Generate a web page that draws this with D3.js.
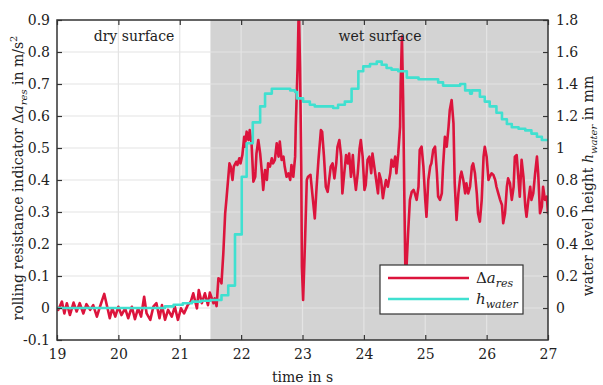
<!DOCTYPE html>
<html>
<head>
<meta charset="utf-8">
<script src="https://cdn.jsdelivr.net/npm/d3@7"></script>
<style>
  body { margin: 0; background: #fff; }
  text { font-family: "DejaVu Serif", serif; fill: #222; }
</style>
</head>
<body>
<svg id="chart" width="603" height="385"></svg>
<script>
// Rolling resistance indicator Δa_res (m/s²) over time (s)
const timeRes = [
  19.00,19.02,19.08,19.12,19.16,19.21,19.27,19.32,19.37,19.43,19.48,19.54,19.59,19.65,19.70,19.77,19.83,19.86,19.90,19.95,
  20.00,20.05,20.11,20.16,20.22,20.27,20.32,20.37,20.42,20.46,20.52,20.57,20.62,20.67,20.71,20.76,20.81,20.87,20.92,20.97,
  21.02,21.07,21.13,21.18,21.22,21.28,21.31,21.36,21.41,21.46,21.49,21.55,21.57,21.60,21.63,21.66,21.68,21.71,21.74,21.76,
  21.81,21.83,21.86,21.88,21.92,21.94,21.97,21.99,22.02,22.05,22.06,22.09,22.12,22.14,22.17,22.20,22.23,22.25,22.28,22.31,
  22.34,22.36,22.39,22.42,22.44,22.47,22.50,22.52,22.55,22.58,22.61,22.63,22.66,22.69,22.71,22.74,22.77,22.80,22.82,22.85,
  22.88,22.89,22.92,22.94,22.96,22.98,22.99,23.01,23.04,23.07,23.09,23.13,23.17,23.20,23.23,23.26,23.30,23.32,23.35,23.38,
  23.41,23.44,23.46,23.49,23.52,23.55,23.57,23.60,23.63,23.65,23.68,23.71,23.74,23.76,23.79,23.82,23.84,23.87,23.90,23.93,
  23.95,23.98,24.01,24.03,24.06,24.09,24.12,24.14,24.17,24.20,24.23,24.25,24.28,24.31,24.33,24.36,24.39,24.43,24.45,24.48,
  24.51,24.53,24.56,24.59,24.60,24.62,24.64,24.66,24.68,24.70,24.72,24.75,24.78,24.81,24.83,24.86,24.89,24.91,24.94,24.97,
  25.00,25.02,25.05,25.08,25.10,25.13,25.16,25.19,25.21,25.24,25.27,25.29,25.32,25.35,25.38,25.40,25.43,25.46,25.48,25.51,
  25.54,25.57,25.59,25.62,25.65,25.67,25.70,25.73,25.76,25.78,25.81,25.84,25.86,25.89,25.92,25.95,25.97,26.00,26.03,26.05,
  26.08,26.11,26.14,26.16,26.19,26.22,26.25,26.27,26.30,26.33,26.35,26.38,26.41,26.44,26.46,26.49,26.52,26.54,26.57,26.60,
  26.63,26.65,26.68,26.71,26.73,26.76,26.79,26.82,26.84,26.87,26.90,26.92,26.95,26.98,27.00
];
const deltaRes = [
  -0.005,-0.006,0.020,-0.017,0.015,-0.022,0.017,-0.011,0.015,-0.017,0.012,-0.006,0.009,-0.027,0.004,0.044,-0.006,-0.032,-0.001,-0.027,
  0.004,-0.022,-0.001,-0.032,0.004,-0.035,-0.001,-0.027,0.035,-0.017,-0.037,0.004,0.015,-0.032,0.009,-0.037,-0.006,-0.027,0.004,-0.037,
  -0.001,-0.017,0.009,0.020,0.046,-0.001,0.056,0.015,0.046,0.009,0.048,0.015,0.030,0.006,0.093,0.088,0.077,0.171,0.296,0.338,
  0.452,0.442,0.400,0.442,0.457,0.447,0.468,0.452,0.478,0.535,0.504,0.551,0.525,0.556,0.515,0.395,0.410,0.483,0.525,0.483,
  0.421,0.369,0.431,0.400,0.452,0.442,0.468,0.452,0.463,0.515,0.473,0.520,0.463,0.473,0.442,0.410,0.421,0.400,0.447,0.410,
  0.473,0.567,0.754,0.950,0.754,0.442,0.129,0.025,0.200,0.400,0.410,0.416,0.338,0.280,0.379,0.463,0.556,0.551,0.473,0.379,
  0.363,0.410,0.442,0.452,0.405,0.452,0.504,0.525,0.473,0.358,0.421,0.478,0.452,0.483,0.410,0.478,0.421,0.369,0.421,0.499,
  0.525,0.473,0.369,0.384,0.463,0.473,0.421,0.483,0.442,0.400,0.358,0.421,0.400,0.343,0.369,0.400,0.379,0.421,0.463,0.442,
  0.473,0.421,0.483,0.567,0.700,0.848,0.650,0.338,0.060,0.150,0.233,0.338,0.363,0.369,0.358,0.338,0.379,0.494,0.504,0.442,
  0.338,0.285,0.400,0.442,0.452,0.494,0.504,0.421,0.348,0.338,0.358,0.442,0.535,0.504,0.567,0.619,0.650,0.577,0.390,0.275,
  0.358,0.410,0.426,0.400,0.358,0.390,0.358,0.379,0.442,0.452,0.421,0.358,0.296,0.270,0.338,0.473,0.504,0.473,0.400,0.410,
  0.421,0.416,0.400,0.379,0.358,0.338,0.322,0.265,0.296,0.379,0.405,0.390,0.338,0.379,0.473,0.478,0.400,0.348,0.463,0.410,
  0.317,0.285,0.338,0.379,0.338,0.358,0.421,0.473,0.421,0.296,0.317,0.379,0.338,0.348,0.296
];

// Water level height h_water (mm), held between samples
const timeWater = [
  19.00,20.76,20.90,21.05,21.20,21.35,21.50,21.68,21.79,21.90,22.01,22.09,22.19,22.31,22.39,22.50,22.80,22.88,22.91,23.01,
  23.12,23.20,23.50,23.58,23.69,23.80,23.91,23.99,24.10,24.21,24.29,24.37,24.45,24.56,24.70,24.89,25.05,25.21,25.29,25.43,
  25.57,25.65,25.73,25.76,25.89,25.97,26.05,26.16,26.25,26.33,26.41,26.52,26.63,26.73,26.82,26.90,27.00
];
const heightWater = [
  0.00,0.01,0.02,0.03,0.04,0.045,0.05,0.08,0.14,0.46,0.82,1.03,1.16,1.26,1.34,1.37,1.36,1.35,1.31,1.29,
  1.27,1.26,1.25,1.27,1.29,1.37,1.48,1.51,1.525,1.54,1.52,1.50,1.49,1.48,1.44,1.43,1.43,1.41,1.39,1.39,
  1.40,1.36,1.34,1.36,1.32,1.29,1.26,1.22,1.18,1.15,1.13,1.12,1.11,1.09,1.07,1.05,1.05
];

const xTicks = [19, 20, 21, 22, 23, 24, 25, 26, 27];
const leftTicks = [-0.1, 0, 0.1, 0.2, 0.3, 0.4, 0.5, 0.6, 0.7, 0.8, 0.9];
const rightTicks = [0, 0.2, 0.4, 0.6, 0.8, 1, 1.2, 1.4, 1.6, 1.8];
const wetStart = 21.5;
const regionLabels = ["dry surface", "wet surface"];

const FONT = '"DejaVu Serif", serif';
const FS = 14, FS_SUB = 10;

const svg = d3.select("#chart");
const L = 57, R = 548, T = 20, B = 340;

const x = d3.scaleLinear().domain([19, 27]).range([L, R]);
const yL = d3.scaleLinear().domain([-0.1, 0.9]).range([B, T]);
const yR = d3.scaleLinear().domain([-0.2, 1.8]).range([B, T]);

const fmt = d => (Math.round(d * 10) / 10).toString();

// wet-surface shading
svg.append("rect")
  .attr("x", x(wetStart)).attr("y", T)
  .attr("width", x(27) - x(wetStart)).attr("height", B - T)
  .attr("fill", "#d3d3d3");

// grid
const grid = svg.append("g").attr("stroke", "#e4e4e4").attr("stroke-width", 1.2);
grid.selectAll(".gx").data(xTicks.slice(1, -1)).join("line")
  .attr("x1", d => x(d)).attr("x2", d => x(d)).attr("y1", T).attr("y2", B);
grid.selectAll(".gy").data(leftTicks.slice(1, -1)).join("line")
  .attr("y1", d => yL(d)).attr("y2", d => yL(d)).attr("x1", L).attr("x2", R);

// clipping to the plot area
svg.append("clipPath").attr("id", "plotClip")
  .append("rect").attr("x", L).attr("y", T).attr("width", R - L).attr("height", B - T);

const plot = svg.append("g").attr("clip-path", "url(#plotClip)");

const resData = timeRes.map((t, i) => [t, deltaRes[i]]);
const waterData = timeWater.map((t, i) => [t, heightWater[i]]);

plot.append("path")
  .datum(resData)
  .attr("fill", "none").attr("stroke", "#dc143c").attr("stroke-width", 2.6)
  .attr("stroke-linejoin", "round").attr("stroke-linecap", "round")
  .attr("d", d3.line().x(d => x(d[0])).y(d => yL(d[1])));

plot.append("path")
  .datum(waterData)
  .attr("fill", "none").attr("stroke", "#40e0d0").attr("stroke-width", 2.6)
  .attr("stroke-linejoin", "round")
  .attr("d", d3.line().curve(d3.curveStepAfter).x(d => x(d[0])).y(d => yR(d[1])));

// axes with inward ticks
const tickLen = 5;
const axisStyle = g => {
  g.attr("font-family", FONT);
  g.select(".domain").remove();
  g.selectAll(".tick line").attr("stroke", "#333").attr("stroke-width", 1.2);
  g.selectAll(".tick text").attr("font-size", FS).attr("fill", "#222");
};

svg.append("g").attr("transform", `translate(0,${B})`)
  .call(d3.axisBottom(x).tickValues(xTicks).tickSizeInner(-tickLen).tickSizeOuter(0).tickPadding(9).tickFormat(d3.format("d")))
  .call(axisStyle);
svg.append("g").attr("transform", `translate(0,${T})`)
  .call(d3.axisTop(x).tickValues(xTicks).tickSizeInner(-tickLen).tickSizeOuter(0).tickFormat(""))
  .call(axisStyle);
svg.append("g").attr("transform", `translate(${L},0)`)
  .call(d3.axisLeft(yL).tickValues(leftTicks).tickSizeInner(-tickLen).tickSizeOuter(0).tickPadding(7).tickFormat(fmt))
  .call(axisStyle);
svg.append("g").attr("transform", `translate(${R},0)`)
  .call(d3.axisRight(yR).tickValues(rightTicks).tickSizeInner(-tickLen).tickSizeOuter(0).tickPadding(8).tickFormat(fmt))
  .call(axisStyle);

// frame
svg.append("rect")
  .attr("x", L).attr("y", T).attr("width", R - L).attr("height", B - T)
  .attr("fill", "none").attr("stroke", "#333").attr("stroke-width", 1.5);

// region labels
svg.append("text").attr("x", 134).attr("y", 41).attr("text-anchor", "middle")
  .attr("font-size", FS).text(regionLabels[0]);
svg.append("text").attr("x", 380).attr("y", 41).attr("text-anchor", "middle")
  .attr("font-size", FS).text(regionLabels[1]);

// axis titles
svg.append("text").attr("x", (L + R) / 2).attr("y", 382).attr("text-anchor", "middle")
  .attr("font-size", FS).text("time in s");

const leftTitle = svg.append("text")
  .attr("transform", "translate(23,178) rotate(-90)")
  .attr("text-anchor", "middle").attr("font-size", FS);
leftTitle.append("tspan").text("rolling resistance indicator \u0394");
leftTitle.append("tspan").attr("font-style", "italic").text("a");
leftTitle.append("tspan").attr("font-style", "italic").attr("font-size", FS_SUB).attr("dy", 4).text("res");
leftTitle.append("tspan").attr("dy", -4).text(" in m/s");
leftTitle.append("tspan").attr("font-size", FS_SUB).attr("dy", -6).text("2");

const rightTitle = svg.append("text")
  .attr("transform", "translate(593,186) rotate(-90)")
  .attr("text-anchor", "middle").attr("font-size", FS);
rightTitle.append("tspan").text("water level height ");
rightTitle.append("tspan").attr("font-style", "italic").text("h");
rightTitle.append("tspan").attr("font-style", "italic").attr("font-size", FS_SUB).attr("dy", 4).text("water");
rightTitle.append("tspan").attr("dy", -4).text(" in mm");

// legend
const lg = svg.append("g");
lg.append("rect").attr("x", 380).attr("y", 265).attr("width", 143).attr("height", 49)
  .attr("fill", "#fff").attr("stroke", "#333").attr("stroke-width", 1.2);
lg.append("line").attr("x1", 388).attr("x2", 469).attr("y1", 278).attr("y2", 278)
  .attr("stroke", "#dc143c").attr("stroke-width", 2.6);
lg.append("line").attr("x1", 388).attr("x2", 469).attr("y1", 299).attr("y2", 299)
  .attr("stroke", "#40e0d0").attr("stroke-width", 2.6);
const l1 = lg.append("text").attr("x", 476).attr("y", 283).attr("font-size", FS + 1);
l1.append("tspan").text("\u0394");
l1.append("tspan").attr("font-style", "italic").text("a");
l1.append("tspan").attr("font-style", "italic").attr("font-size", FS_SUB + 1).attr("dy", 4).text("res");
const l2 = lg.append("text").attr("x", 476).attr("y", 304).attr("font-size", FS + 1);
l2.append("tspan").attr("font-style", "italic").text("h");
l2.append("tspan").attr("font-style", "italic").attr("font-size", FS_SUB + 1).attr("dy", 4).text("water");
</script>
</body>
</html>
